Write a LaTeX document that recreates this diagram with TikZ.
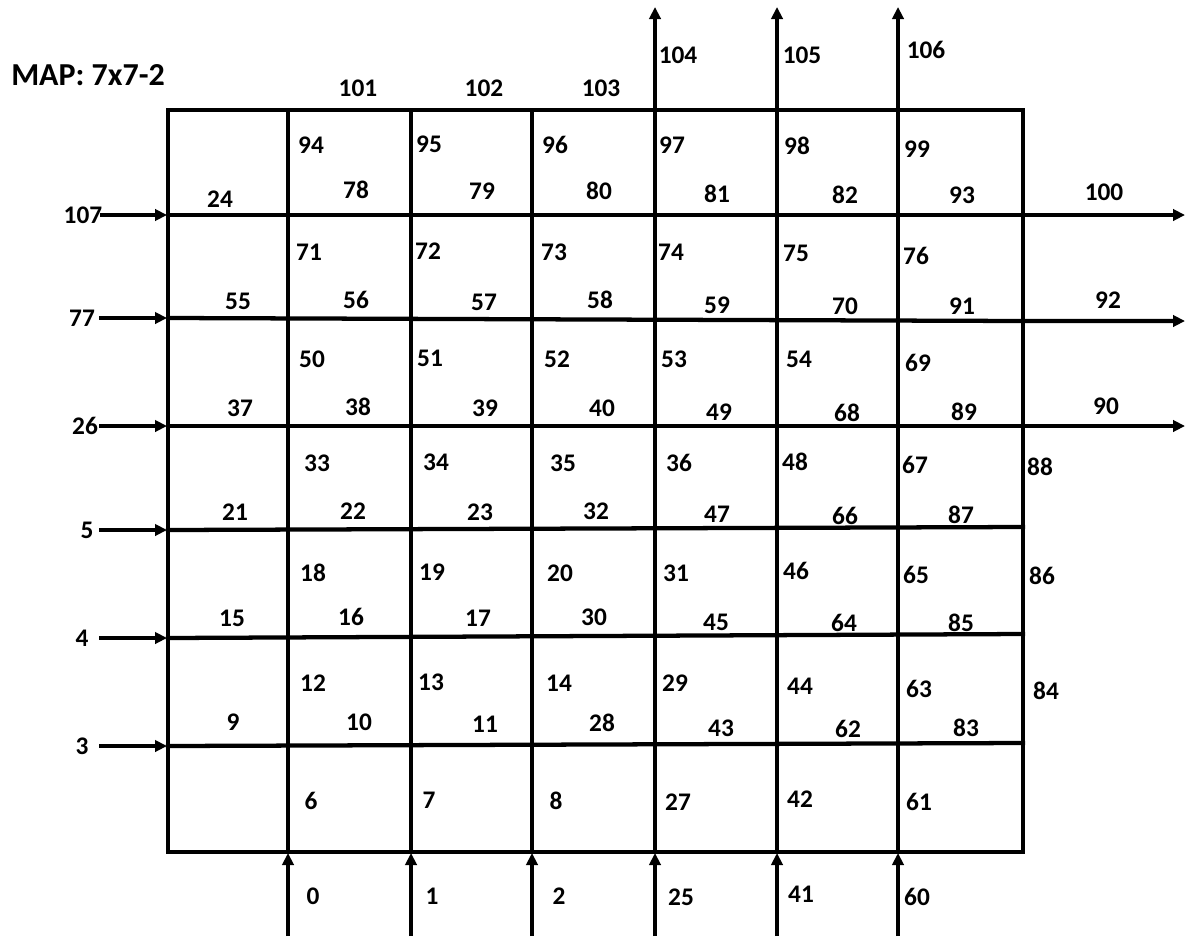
\documentclass[tikz,border=0pt]{standalone}
\usepackage{fontspec}
\setmainfont{Carlito}
\usetikzlibrary{arrows.meta}
\begin{document}
\begin{tikzpicture}[x=0.75pt,y=-0.75pt,
  gridline/.style={line width=3.2pt,line cap=rect},
  arrline/.style={line width=3.2pt,-{Triangle[length=9pt,width=8.5pt]}},
  lbl/.style={font=\fontsize{19}{21}\selectfont\bfseries,inner sep=0pt},
  ttl/.style={font=\fontsize{24}{26}\selectfont\bfseries,inner sep=0pt,anchor=west}]
\useasboundingbox (0,0) rectangle (1198,946);
% title
\node[ttl] (title) at (11,75) {MAP: 7x7-2};
% named corner coordinates
\coordinate (tl) at (168,110);
\coordinate (tr) at (1023,110);
\coordinate (br) at (1023,852);
\coordinate (bl) at (168,852);
% outer frame
\draw[gridline] (tl) -- (tr) -- (br) -- (bl) -- cycle;
% interior verticals (full height)
\foreach \x in {288,411,532}{
  \draw[gridline] (\x,110) -- (\x,852);
}
% interior verticals extending upward as exit arrows
\foreach \x/\n in {655/a,777/b,898/c}{
  \coordinate (bot\n) at (\x,852);
  \coordinate (top\n) at (\x,7);
  \draw[arrline] (bot\n) -- (top\n);
}
% interior horizontals (inside grid only)
\draw[gridline] (168,530) -- (1023,527);
\draw[gridline] (168,638) -- (1023,634);
\draw[gridline] (168,746) -- (1023,743);
% horizontals extending right as exit arrows
\coordinate (r1s) at (168,215); \coordinate (r1e) at (1185,215);
\coordinate (r2s) at (168,318); \coordinate (r2m) at (1023,321); \coordinate (r2e) at (1185,321);
\coordinate (r3s) at (168,426); \coordinate (r3e) at (1185,426);
\draw[arrline] (r1s) -- (r1e);
\draw[arrline] (r2s) -- (r2m) -- (r2e);
\draw[arrline] (r3s) -- (r3e);
% left entry arrows with labels
\foreach \t/\y/\lx/\sx in {107/215/83/100, 77/318/82/99, 26/426/85/99, 5/530/87/99, 4/638/82/99, 3/746/82/99}{
  \node[lbl] (in\t) at (\lx,\y) {\t};
  \coordinate (ins\t) at (\sx,\y);
  \coordinate (ine\t) at (167,\y);
  \draw[arrline] (ins\t) -- (ine\t);
}
% bottom entry arrows with labels
\foreach \t/\x/\lx/\ly in {0/288/313/896, 1/411/432/896, 2/532/559/896, 25/655/681/897, 41/777/801/894, 60/898/917/897}{
  \coordinate (bs\t) at (\x,936);
  \coordinate (be\t) at (\x,853);
  \draw[arrline] (bs\t) -- (be\t);
  \node[lbl] (bin\t) at (\lx,\ly) {\t};
}
% labels outside grid
\foreach \t/\x/\y in {101/358/88, 102/484/88, 103/601/88, 104/678/55, 105/802/55, 106/926/50,
  100/1104/192, 92/1108/300, 90/1106/406, 88/1040/467, 86/1042/576, 84/1046/691}{
  \node[lbl] (o\t) at (\x,\y) {\t};
}
% cell labels
\foreach \t/\x/\y in {
  24/220/199, 94/311/145, 78/356/190, 95/429/144, 79/482/191, 96/555/145, 80/599/191,
  97/672/145, 81/717/194, 98/797/146, 82/845/195, 99/917/149, 93/962/195,
  55/238/301, 71/309/252, 56/356/300, 72/428/251, 57/484/302, 73/554/252, 58/600/300,
  74/671/252, 59/717/305, 75/796/253, 70/845/306, 76/916/256, 91/962/306,
  37/240/408, 50/312/359, 38/358/407, 51/430/358, 39/485/408, 52/557/359, 40/602/408,
  53/674/359, 49/719/412, 54/799/359, 68/847/413, 69/918/363, 89/964/412,
  21/235/512, 33/317/463, 22/353/511, 34/436/462, 23/480/512, 35/563/463, 32/596/511,
  36/679/463, 47/717/514, 48/795/462, 66/845/516, 67/915/465, 87/961/515,
  15/232/618, 18/313/573, 16/351/617, 19/432/572, 17/478/618, 20/560/573, 30/594/617,
  31/676/573, 45/716/622, 46/796/571, 64/844/623, 65/916/575, 85/961/623,
  9/233/722, 12/313/683, 10/359/722, 13/431/682, 11/485/724, 14/559/683, 28/602/723,
  29/675/683, 43/721/728, 44/800/686, 62/848/729, 63/919/689, 83/966/728,
  6/311/801, 7/429/800, 8/556/801, 27/678/802, 42/800/799, 61/919/802}{
  \node[lbl] (c\t) at (\x,\y) {\t};
}
\end{tikzpicture}
\end{document}
